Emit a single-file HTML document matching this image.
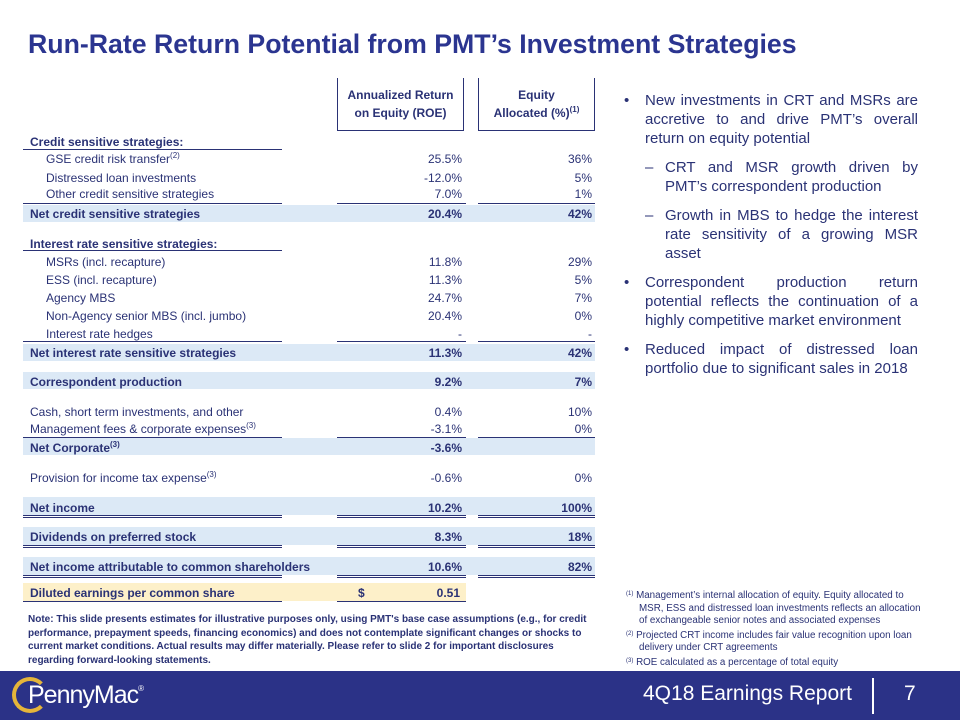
<!DOCTYPE html>
<html><head><meta charset="utf-8"><style>
body{margin:0;width:960px;height:720px;position:relative;overflow:hidden;background:#fff;font-family:"Liberation Sans",sans-serif;color:#2a3275}
.a{position:absolute;white-space:nowrap}
.t{font-size:12px;line-height:16px}
.b{font-weight:bold}
.v1{position:absolute;right:498px;font-size:12px;line-height:16px;text-align:right}
.v2{position:absolute;right:368px;font-size:12px;line-height:16px;text-align:right}
.band{position:absolute;left:23px;width:572px;background:#dce9f6}
.ln{position:absolute;height:1px;background:#2a3275}
.dl{position:absolute;height:3px;background:linear-gradient(#2a3275 0 1px,transparent 1px 2px,#2a3275 2px)}
sup{font-size:8px;line-height:0}
.bul{position:absolute;left:622px;width:296px;font-size:15px;line-height:19px;color:#2a3275}
.bul p{margin:0 0 10px 0;position:relative;padding-left:23px;text-align:justify}
.bul p.s{padding-left:43px}
.bul p:before{content:"•";position:absolute;left:2px}
.bul p.s:before{content:"–";left:23px}
</style></head><body>
<div class="a" style="left:28px;top:27px;font-size:26.7px;font-weight:bold;color:#2b3590;line-height:34px">Run-Rate Return Potential from PMT’s Investment Strategies</div>

<div class="a" style="left:337px;top:78px;width:127px;border:1.5px solid #2a3275;border-top:none;font-size:12px;font-weight:bold;text-align:center;line-height:18px;padding-top:8px;box-sizing:border-box;height:53px">Annualized Return<br>on Equity (ROE)</div>
<div class="a" style="left:478px;top:78px;width:117px;border:1.5px solid #2a3275;border-top:none;font-size:12px;font-weight:bold;text-align:center;line-height:18px;padding-top:8px;box-sizing:border-box;height:53px">Equity<br>Allocated (%)<sup>(1)</sup></div>

<div class="band" style="top:205px;height:17px"></div>
<div class="band" style="top:344px;height:17px"></div>
<div class="band" style="top:372px;height:17px"></div>
<div class="band" style="top:438px;height:17px"></div>
<div class="band" style="top:497px;height:18px"></div>
<div class="band" style="top:527px;height:18px"></div>
<div class="band" style="top:557px;height:18px"></div>
<div class="band" style="top:583px;height:18px;width:443px;background:#fdf0c9"></div>

<div class="ln" style="left:23px;top:149px;width:259px"></div>
<div class="ln" style="left:23px;top:250px;width:259px"></div>
<div class="ln" style="left:23px;top:203px;width:259px"></div>
<div class="ln" style="left:337px;top:203px;width:129px"></div>
<div class="ln" style="left:478px;top:203px;width:117px"></div>
<div class="ln" style="left:23px;top:341px;width:259px"></div>
<div class="ln" style="left:337px;top:341px;width:129px"></div>
<div class="ln" style="left:478px;top:341px;width:117px"></div>
<div class="ln" style="left:23px;top:437px;width:259px"></div>
<div class="ln" style="left:337px;top:437px;width:129px"></div>
<div class="ln" style="left:478px;top:437px;width:117px"></div>
<div class="dl" style="left:23px;top:515px;width:259px"></div>
<div class="dl" style="left:337px;top:515px;width:129px"></div>
<div class="dl" style="left:478px;top:515px;width:117px"></div>
<div class="dl" style="left:23px;top:545px;width:259px"></div>
<div class="dl" style="left:337px;top:545px;width:129px"></div>
<div class="dl" style="left:478px;top:545px;width:117px"></div>
<div class="dl" style="left:23px;top:575px;width:259px"></div>
<div class="dl" style="left:337px;top:575px;width:129px"></div>
<div class="dl" style="left:478px;top:575px;width:117px"></div>
<div class="ln" style="left:23px;top:601px;width:259px"></div>
<div class="ln" style="left:337px;top:601px;width:129px"></div>

<div class="a t b" style="left:30px;top:134px">Credit sensitive strategies:</div>
<div class="a t" style="left:46px;top:151px">GSE credit risk transfer<sup>(2)</sup></div><div class="v1" style="top:151px">25.5%</div><div class="v2" style="top:151px">36%</div>
<div class="a t" style="left:46px;top:170px">Distressed loan investments</div><div class="v1" style="top:170px">-12.0%</div><div class="v2" style="top:170px">5%</div>
<div class="a t" style="left:46px;top:186px">Other credit sensitive strategies</div><div class="v1" style="top:186px">7.0%</div><div class="v2" style="top:186px">1%</div>
<div class="a t b" style="left:30px;top:206px">Net credit sensitive strategies</div><div class="v1 b" style="top:206px">20.4%</div><div class="v2 b" style="top:206px">42%</div>

<div class="a t b" style="left:30px;top:236px">Interest rate sensitive strategies:</div>
<div class="a t" style="left:46px;top:254px">MSRs (incl. recapture)</div><div class="v1" style="top:254px">11.8%</div><div class="v2" style="top:254px">29%</div>
<div class="a t" style="left:46px;top:272px">ESS (incl. recapture)</div><div class="v1" style="top:272px">11.3%</div><div class="v2" style="top:272px">5%</div>
<div class="a t" style="left:46px;top:290px">Agency MBS</div><div class="v1" style="top:290px">24.7%</div><div class="v2" style="top:290px">7%</div>
<div class="a t" style="left:46px;top:308px">Non-Agency senior MBS (incl. jumbo)</div><div class="v1" style="top:308px">20.4%</div><div class="v2" style="top:308px">0%</div>
<div class="a t" style="left:46px;top:326px">Interest rate hedges</div><div class="v1" style="top:326px">-</div><div class="v2" style="top:326px">-</div>
<div class="a t b" style="left:30px;top:345px">Net interest rate sensitive strategies</div><div class="v1 b" style="top:345px">11.3%</div><div class="v2 b" style="top:345px">42%</div>

<div class="a t b" style="left:30px;top:374px">Correspondent production</div><div class="v1 b" style="top:374px">9.2%</div><div class="v2 b" style="top:374px">7%</div>

<div class="a t" style="left:30px;top:404px">Cash, short term investments, and other</div><div class="v1" style="top:404px">0.4%</div><div class="v2" style="top:404px">10%</div>
<div class="a t" style="left:30px;top:421px">Management fees &amp; corporate expenses<sup>(3)</sup></div><div class="v1" style="top:421px">-3.1%</div><div class="v2" style="top:421px">0%</div>
<div class="a t b" style="left:30px;top:440px">Net Corporate<sup>(3)</sup></div><div class="v1 b" style="top:440px">-3.6%</div>

<div class="a t" style="left:30px;top:470px">Provision for income tax expense<sup>(3)</sup></div><div class="v1" style="top:470px">-0.6%</div><div class="v2" style="top:470px">0%</div>

<div class="a t b" style="left:30px;top:500px">Net income</div><div class="v1 b" style="top:500px">10.2%</div><div class="v2 b" style="top:500px">100%</div>
<div class="a t b" style="left:30px;top:529px">Dividends on preferred stock</div><div class="v1 b" style="top:529px">8.3%</div><div class="v2 b" style="top:529px">18%</div>
<div class="a t b" style="left:30px;top:559px">Net income attributable to common shareholders</div><div class="v1 b" style="top:559px">10.6%</div><div class="v2 b" style="top:559px">82%</div>
<div class="a t b" style="left:30px;top:585px">Diluted earnings per common share</div><div class="a t b" style="left:358px;top:585px">$</div><div class="v1 b" style="top:585px;right:500px">0.51</div>

<div class="a" style="left:28px;top:613px;width:570px;white-space:normal;font-size:10px;line-height:13.5px;font-weight:bold">Note: This slide presents estimates for illustrative purposes only, using PMT's base case assumptions (e.g., for credit performance, prepayment speeds, financing economics) and does not contemplate significant changes or shocks to current market conditions. Actual results may differ materially. Please refer to slide 2 for important disclosures regarding forward-looking statements.</div>

<div class="bul" style="top:91px">
<p>New investments in CRT and MSRs are accretive to and drive PMT’s overall return on equity potential</p>
<p class="s">CRT and MSR growth driven by PMT’s correspondent production</p>
<p class="s">Growth in MBS to hedge the interest rate sensitivity of a growing MSR asset</p>
<p>Correspondent production return potential reflects the continuation of a highly competitive market environment</p>
<p>Reduced impact of distressed loan portfolio due to significant sales in 2018</p>
</div>

<div class="a" style="left:626px;top:588px;width:300px;white-space:normal;font-size:9.8px;line-height:12.5px">
<div style="padding-left:13px;text-indent:-13px"><span style="font-size:6px;vertical-align:3px">(1)</span>&nbsp;Management’s internal allocation of equity. Equity allocated to MSR, ESS and distressed loan investments reflects an allocation of exchangeable senior notes and associated expenses</div>
<div style="padding-left:13px;text-indent:-13px"><span style="font-size:6px;vertical-align:3px">(2)</span>&nbsp;Projected CRT income includes fair value recognition upon loan delivery under CRT agreements</div>
<div style="padding-left:13px;text-indent:-13px"><span style="font-size:6px;vertical-align:3px">(3)</span>&nbsp;ROE calculated as a percentage of total equity</div>
</div>

<div class="a" style="left:0;top:671px;width:960px;height:49px;background:#2b3287"></div>
<div class="a" style="left:12px;top:677px;width:36px;height:36px;border-radius:50%;border:4px solid #e5b53a;border-right-color:transparent;box-sizing:border-box"></div>
<div class="a" style="left:28px;top:680px;font-size:25px;color:#fff;line-height:30px;letter-spacing:-1px">PennyMac<sup style="font-size:8px;vertical-align:12px">®</sup></div>
<div class="a" style="left:643px;top:682px;font-size:21px;color:#fff;line-height:24px">4Q18 Earnings Report</div>
<div class="a" style="left:872px;top:678px;width:2px;height:36px;background:#fff"></div>
<div class="a" style="left:904px;top:682px;font-size:21px;color:#fff;line-height:24px">7</div>
</body></html>
